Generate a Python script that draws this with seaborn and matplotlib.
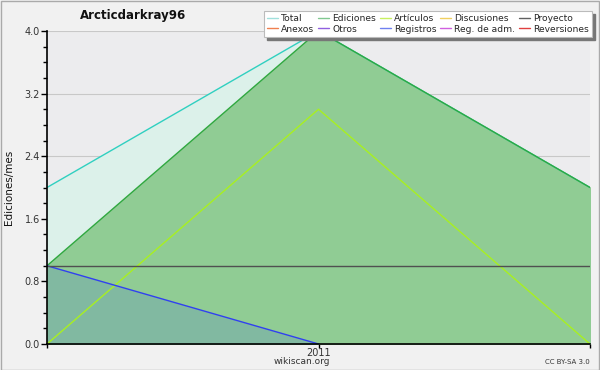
import numpy as np
import pandas as pd
import matplotlib
matplotlib.use("Agg")
import matplotlib.pyplot as plt
import seaborn as sns
from matplotlib.lines import Line2D
import matplotlib.patches as mpatches

# ---- data ----
months = [0, 1, 2]
tick_labels = ["", "2011", ""]
total = [2.0, 4.0, 2.0]
ediciones = [1.0, 4.0, 2.0]
articulos = [0.0, 3.0, 0.0]
proyecto = [1.0, 1.0, 1.0]
registros = [1.0, 0.0, np.nan]

legend_names = ["Total", "Ediciones", "Artículos", "Discusiones", "Proyecto",
                "Anexos", "Otros", "Registros", "Reg. de adm.", "Reversiones"]
legend_colors = ["#a0e0dc", "#80c890", "#c8f060", "#f0d060", "#606060",
                 "#f08050", "#9060e0", "#7080f0", "#d060e0", "#e04040"]

sns.set_theme(style="white")
plt.rcParams['font.family'] = ['DejaVu Sans']

fig = plt.figure(figsize=(6, 3.7), dpi=100, facecolor="#f1f1f1")
ax = fig.add_axes([47/600, 26/370, 543/600, 313/370])
ax.set_facecolor("#ececee")

df = pd.DataFrame({"x": months, "Total": total, "Ediciones": ediciones,
                   "Artículos": articulos, "Proyecto": proyecto, "Registros": registros})

# fills
ax.fill_between(df["x"], 0, df["Total"], color="#dcf1ea", zorder=1)
ax.fill_between(df["x"], 0, df["Ediciones"], color="#90cc94", zorder=2)
m = df["Registros"].notna()
ax.fill_between(df["x"][m], 0, df["Registros"][m], color="#3050f0", alpha=0.15, zorder=3, lw=0)

# lines
sns.lineplot(data=df, x="x", y="Total", color="#30d0c0", lw=1, ax=ax, zorder=4)
sns.lineplot(data=df, x="x", y="Ediciones", color="#30a840", lw=1, ax=ax, zorder=4)
sns.lineplot(data=df, x="x", y="Artículos", color="#a8f020", lw=1, ax=ax, zorder=4)
sns.lineplot(data=df[m], x="x", y="Registros", color="#3040f0", lw=1, ax=ax, zorder=5)
sns.lineplot(data=df, x="x", y="Proyecto", color="#505050", lw=1, ax=ax, zorder=5)

ax.set_xlim(0, 2)
ax.set_ylim(0, 4.0)
yt = [0.0, 0.8, 1.6, 2.4, 3.2, 4.0]
ax.set_yticks(yt)
ax.set_yticklabels([f"{v:.1f}" for v in yt], fontsize=7, color="#333333")
ax.set_yticks(np.arange(0, 4.01, 0.2), minor=True)
ax.set_xticks(months)
ax.set_xticklabels(tick_labels, fontsize=7, color="#333333")
ax.tick_params(axis="both", which="both", direction="out", length=4, width=1, color="black", pad=1)
ax.tick_params(axis="y", which="minor", length=3)
ax.tick_params(axis="x", length=3, pad=0)
ax.tick_params(left=True, bottom=True, which="both")
ax.grid(axis="y", color="#c8c8c8", lw=0.8, zorder=0)
ax.set_axisbelow(True)
for s in ["top", "right"]:
    ax.spines[s].set_visible(False)
for s in ["left", "bottom"]:
    ax.spines[s].set_color("black")
    ax.spines[s].set_linewidth(1.2)
    ax.spines[s].set_zorder(10)
ax.set_xlabel("")
ax.set_ylabel("Ediciones/mes", fontsize=7.5, color="#111111", labelpad=8)

fig.text(133/600, 1 - 16/370, "Arcticdarkray96", fontsize=8.5, fontweight="bold",
         ha="center", va="center", color="#111111")
fig.text(302/600, 1 - 362/370, "wikiscan.org", fontsize=6.5, ha="center", va="center", color="#333333")
fig.text(590/600, 1 - 362/370, "CC BY-SA 3.0", fontsize=5, ha="right", va="center", color="#333333")

# legend
handles = [Line2D([], [], color=c, lw=1) for c in legend_colors]
order = []
for col in range(5):
    order += [col, col + 5]
leg = fig.legend([handles[i] for i in order], [legend_names[i] for i in order],
                 ncol=5, loc="upper right", bbox_to_anchor=(592/600, 1 - 11/370),
                 fontsize=6.6, frameon=True, fancybox=False, shadow=False, framealpha=1,
                 handlelength=1.2, handletextpad=0.3, columnspacing=0.45,
                 labelspacing=0.15, borderpad=0.35, borderaxespad=0)
leg.get_frame().set_facecolor("white")
leg.get_frame().set_edgecolor("#bbbbbb")
leg.get_frame().set_linewidth(0.8)
leg.set_zorder(20)
fig.canvas.draw()
bb = leg.get_window_extent().transformed(fig.transFigure.inverted())
shadow = mpatches.Rectangle((bb.x0 + 3/600, bb.y0 - 3/370), bb.width, bb.height,
                            transform=fig.transFigure, color="#777777", zorder=19)
fig.add_artist(shadow)

# border
fig.add_artist(mpatches.Rectangle((0.5/600, 0.5/370), 598.5/600, 368.5/370, transform=fig.transFigure,
                                  fill=False, edgecolor="#aaaaaa", lw=1))

fig.savefig("out.png", dpi=100, facecolor=fig.get_facecolor())
